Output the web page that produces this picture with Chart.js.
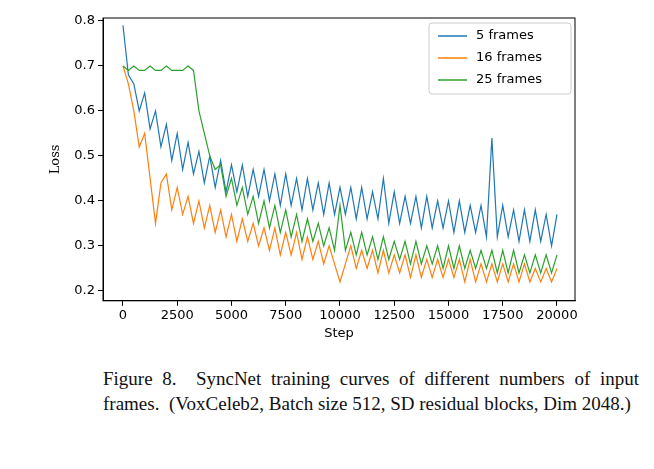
<!DOCTYPE html>
<html>
<head>
<meta charset="utf-8">
<script src="https://cdn.jsdelivr.net/npm/chart.js@4/dist/chart.umd.min.js"></script>
<style>
  body { margin: 0; background: #fff; width: 654px; height: 469px; overflow: hidden; }
  #wrap { position: absolute; left: 0; top: 0; width: 654px; height: 345px; }
  #cap { position: absolute; left: 103px; top: 366px; width: 536px;
         font-family: "Liberation Serif", serif; font-size: 19px; line-height: 25px;
         text-align: justify; color: #111; }
</style>
</head>
<body>
<div id="wrap"><canvas id="chart"></canvas></div>
<div id="cap">Figure 8.&nbsp; SyncNet training curves of different numbers of input frames.&nbsp; (VoxCeleb2, Batch size 512, SD residual blocks, Dim 2048.)</div>
<script>
const seriesNames = ["5 frames", "16 frames", "25 frames"];
const xTicks = [0, 2500, 5000, 7500, 10000, 12500, 15000, 17500, 20000];
const yTicks = [0.2, 0.3, 0.4, 0.5, 0.6, 0.7, 0.8];

// one reading every 250 steps, 0..20000
const steps = [];
for (let s = 0; s <= 20000; s += 250) steps.push(s);

const frames5 = [
  0.79,0.68,0.66,0.60,0.64,0.56,0.60,0.52,0.57,
  0.49,0.55,0.47,0.53,0.46,0.51,0.44,0.50,0.43,
  0.49,0.42,0.48,0.42,0.48,0.41,0.47,0.41,0.47,
  0.40,0.46,0.39,0.46,0.39,0.45,0.38,0.45,0.38,
  0.44,0.37,0.44,0.37,0.43,0.37,0.43,0.36,0.43,
  0.36,0.42,0.36,0.45,0.35,0.42,0.35,0.41,0.35,
  0.41,0.34,0.41,0.34,0.40,0.34,0.40,0.33,0.40,
  0.33,0.39,0.33,0.39,0.32,0.54,0.32,0.39,0.32,
  0.38,0.31,0.38,0.31,0.38,0.31,0.37,0.30,0.37
];
const frames16 = [
  0.70,0.66,0.60,0.52,0.55,0.45,0.35,0.44,0.46,
  0.38,0.43,0.37,0.41,0.35,0.40,0.34,0.39,0.33,
  0.38,0.32,0.37,0.31,0.36,0.31,0.35,0.30,0.34,
  0.29,0.34,0.28,0.33,0.28,0.33,0.27,0.32,0.27,
  0.31,0.26,0.30,0.26,0.22,0.26,0.30,0.25,0.29,
  0.25,0.29,0.24,0.29,0.24,0.28,0.24,0.28,0.23,
  0.28,0.23,0.27,0.23,0.27,0.23,0.27,0.23,0.27,
  0.22,0.27,0.22,0.26,0.22,0.26,0.22,0.26,0.22,
  0.26,0.22,0.26,0.22,0.25,0.22,0.25,0.22,0.25
];
const frames25 = [
  0.70,0.69,0.70,0.69,0.69,0.70,0.69,0.69,0.70,
  0.69,0.69,0.69,0.70,0.69,0.60,0.55,0.50,0.47,
  0.48,0.41,0.45,0.39,0.43,0.37,0.41,0.35,0.40,
  0.34,0.39,0.33,0.38,0.32,0.37,0.31,0.36,0.31,
  0.35,0.30,0.34,0.29,0.39,0.29,0.33,0.28,0.33,
  0.28,0.32,0.27,0.32,0.27,0.31,0.27,0.31,0.26,
  0.31,0.26,0.30,0.26,0.30,0.25,0.30,0.25,0.30,
  0.25,0.29,0.25,0.29,0.25,0.29,0.24,0.29,0.24,
  0.29,0.24,0.28,0.24,0.28,0.24,0.28,0.24,0.28
];
const colors = ["#1f77b4", "#ff7f0e", "#2ca02c"];
const allSeries = [frames5, frames16, frames25];

const datasets = allSeries.map((vals, i) => ({
  label: seriesNames[i],
  data: vals.map((v, j) => ({ x: steps[j], y: v })),
  borderColor: colors[i],
  borderWidth: 1.2,
  pointRadius: 0,
  tension: 0,
  order: 2 - i
}));

const font = { family: "DejaVu Sans", size: 13 };

const framePlugin = {
  id: "frame",
  afterDraw(chart) {
    const { ctx, chartArea: a } = chart;
    ctx.save();
    ctx.strokeStyle = "#000";
    ctx.lineWidth = 1;
    ctx.strokeRect(a.left, a.top, a.right - a.left, a.bottom - a.top);
    // legend box, upper right
    const bx = a.right - 146, by = a.top + 5, bw = 142, bh = 71;
    ctx.fillStyle = "rgba(255,255,255,0.85)";
    ctx.strokeStyle = "#ccc";
    ctx.beginPath();
    ctx.roundRect(bx, by, bw, bh, 3);
    ctx.fill();
    ctx.stroke();
    ctx.font = "13px 'DejaVu Sans'";
    ctx.textBaseline = "middle";
    seriesNames.forEach((n, i) => {
      const y = by + 13 + i * 22;
      ctx.strokeStyle = colors[i];
      ctx.lineWidth = 1.5;
      ctx.beginPath();
      ctx.moveTo(bx + 9, y);
      ctx.lineTo(bx + 38, y);
      ctx.stroke();
      ctx.fillStyle = "#000";
      ctx.fillText(n, bx + 47, y);
    });
    ctx.restore();
  }
};

new Chart(document.getElementById("chart"), {
  type: "line",
  data: { datasets },
  plugins: [framePlugin],
  options: {
    responsive: true,
    maintainAspectRatio: false,
    animation: false,
    layout: { padding: { top: 18, right: 79, bottom: 0, left: 48 } },
    plugins: { legend: { display: false }, tooltip: { enabled: false } },
    scales: {
      x: {
        type: "linear",
        min: -920, max: 20830,
        afterBuildTicks: (s) => { s.ticks = xTicks.map(v => ({ value: v })); },
        grid: { drawOnChartArea: false, tickLength: 5, color: "#000" },
        border: { color: "#000" },
        ticks: { font, color: "#000", maxRotation: 0, padding: 2, callback: (v) => String(v) },
        title: { display: true, text: "Step", font, color: "#000", padding: { top: 0 } }
      },
      y: {
        min: 0.178, max: 0.8065,
        afterBuildTicks: (s) => { s.ticks = yTicks.map(v => ({ value: v })); },
        afterFit: (s) => { s.width = 55; },
        grid: { drawOnChartArea: false, tickLength: 5, color: "#000" },
        border: { color: "#000" },
        ticks: { font, color: "#000", padding: 3, callback: (v) => v.toFixed(1) },
        title: { display: true, text: "Loss", font: { family: "DejaVu Serif", size: 13 }, color: "#000", padding: 0 }
      }
    }
  }
});
</script>
</body>
</html>
